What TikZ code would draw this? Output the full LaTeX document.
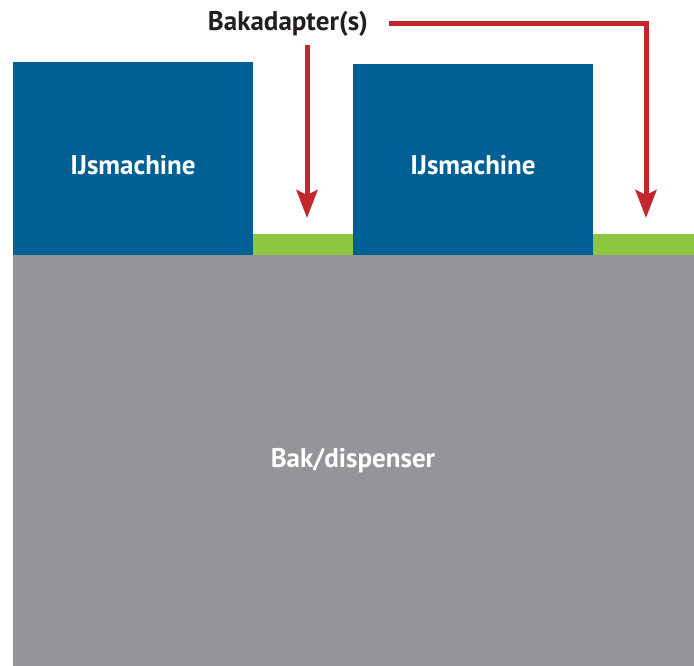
\documentclass[tikz,border=0pt]{standalone}
\usepackage{fontspec}
\setmainfont{PT Sans}
\usepackage{tikz}
\usetikzlibrary{arrows.meta}
\definecolor{ijsblue}{RGB}{0,96,148}
\definecolor{adgreen}{RGB}{141,198,63}
\definecolor{bakgray}{RGB}{147,149,152}
\definecolor{adred}{RGB}{193,39,45}
\definecolor{labeltxt}{RGB}{35,31,32}
\tikzset{
    adarrow/.style={-{Stealth[width=21pt,length=28pt,inset=5pt]}, line width=5pt, draw=adred},
    bigtext/.style={font=\fontsize{27}{30}\selectfont\bfseries, inner sep=0pt, anchor=base}
}
\newcommand{\wtxt}[1]{{\color{white} #1}}

\begin{document}
\begin{tikzpicture}[x=1pt,y=-1pt]
    \useasboundingbox (0,0) rectangle (694,666);
    \fill[bakgray] (13,255) rectangle (694,666);
    \fill[ijsblue] (13,62) rectangle (253,255);
    \fill[ijsblue] (353,64) rectangle (593,255);
    \fill[adgreen] (253,234) rectangle (353,255);
    \fill[adgreen] (593,234) rectangle (694,255);

    \node[bigtext] (m1) at (133,174.5) {\wtxt{IJsmachine}};
    \node[bigtext] (m2) at (473,174.5) {\wtxt{IJsmachine}};
    \node[bigtext] (bak) at (353,467.5) {\wtxt{Bak/dispenser}};
    \node[bigtext, text=labeltxt] (lbl) at (288,30.5) {Bakadapter(s)};

    \coordinate (s1) at (307,45);
    \coordinate (t1) at (307,218);
    \coordinate (s2) at (389,23.5);
    \coordinate (t2) at (646,218);

    \draw [adarrow] (s1) -- (t1);
    \draw [adarrow] (s2) -| (t2);
\end{tikzpicture}
\end{document}
